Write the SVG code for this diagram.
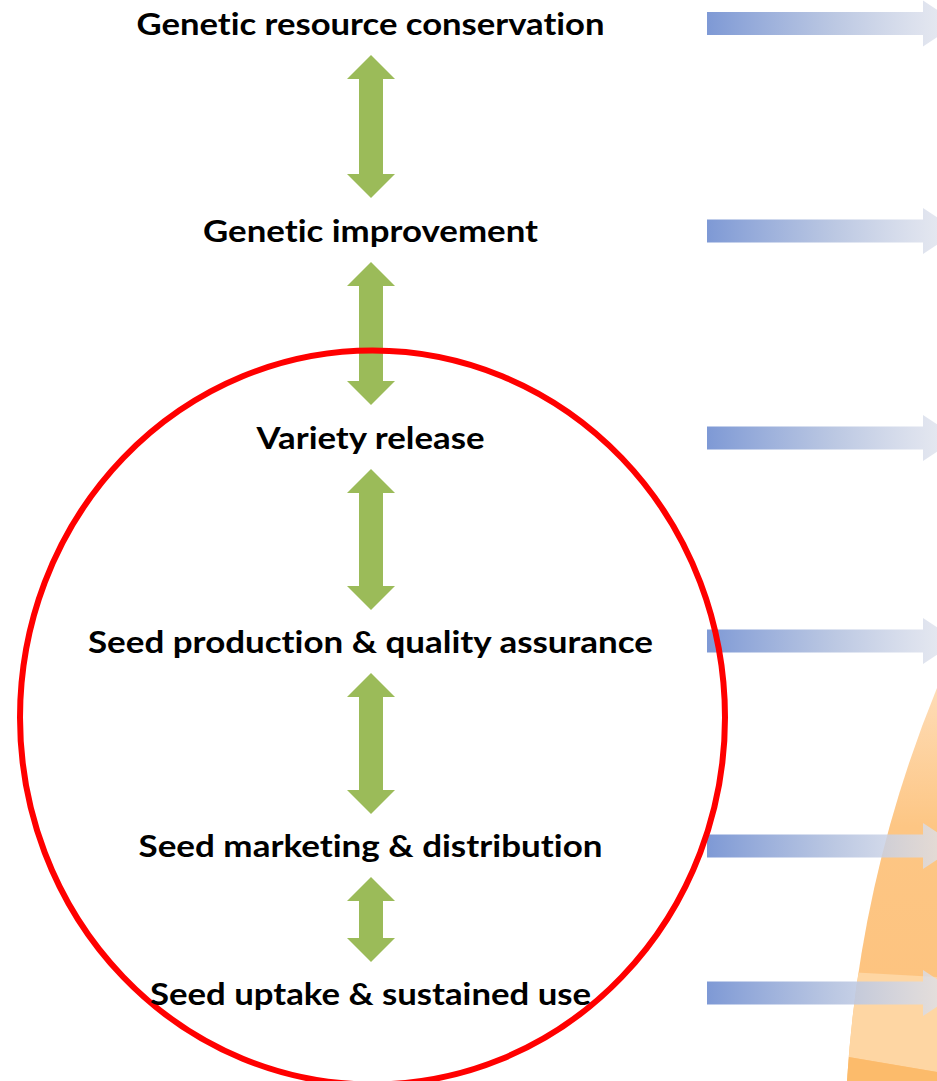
<svg xmlns="http://www.w3.org/2000/svg" width="937" height="1081" viewBox="0 0 937 1081">
  <defs>
    <style>
      .lbl { font-family: Lato, "Open Sans", "Liberation Sans", sans-serif; font-weight: 700; font-size: 30px; fill: #000; text-anchor: middle; font-variant-ligatures: none; font-feature-settings: "liga" 0, "clig" 0; }
      .green { fill: #9bbb59; }
      .blue { fill: url(#blueGrad); }
    </style>
    <linearGradient id="blueGrad" x1="0" y1="0" x2="1" y2="0">
      <stop offset="0" stop-color="#7e99d5" stop-opacity="1"/>
      <stop offset="0.5" stop-color="#b3c1df" stop-opacity="0.9"/>
      <stop offset="1" stop-color="#e4e6ee" stop-opacity="0.75"/>
    </linearGradient>
    <linearGradient id="orangeGrad" x1="0" y1="690" x2="0" y2="1081" gradientUnits="userSpaceOnUse">
      <stop offset="0" stop-color="#fedcb6"/>
      <stop offset="0.35" stop-color="#fdc684"/>
      <stop offset="1" stop-color="#fdc27d"/>
    </linearGradient>
    <clipPath id="orangeClip">
      <path d="M937,688 A1241,1241 0 0 0 847,1081 L937,1081 Z"/>
    </clipPath>
  </defs>

  <g id="orange-shape">
    <path d="M937,688 A1241,1241 0 0 0 847,1081 L937,1081 Z" fill="url(#orangeGrad)"/>
    <g clip-path="url(#orangeClip)">
      <polygon points="830,971 937,977 937,1072 830,1054" fill="#fed6a3"/>
      <polygon points="830,1054 937,1072 937,1081 830,1081" fill="#fcbb6b"/>
    </g>
  </g>

  <g id="connectors">
    <g id="blue-arrows">
      <path class="blue" d="M707,12 L923,12 L923,0.5 L958,23.5 L923,46.5 L923,35 L707,35 Z"/>
      <path class="blue" d="M707,219.5 L923,219.5 L923,208 L958,231 L923,254 L923,242.5 L707,242.5 Z"/>
      <path class="blue" d="M707,426.5 L923,426.5 L923,415 L958,438 L923,461 L923,449.5 L707,449.5 Z"/>
      <path class="blue" d="M707,629.5 L923,629.5 L923,618 L958,641 L923,664 L923,652.5 L707,652.5 Z"/>
      <path class="blue" d="M707,834.5 L923,834.5 L923,823 L958,846 L923,869 L923,857.5 L707,857.5 Z"/>
      <path class="blue" d="M707,981.5 L923,981.5 L923,970 L958,993 L923,1016 L923,1004.5 L707,1004.5 Z"/>
    </g>
    <g id="green-arrows">
      <path class="green" d="M371,55 L395,79 L383,79 L383,174 L395,174 L371,198 L347,174 L359,174 L359,79 L347,79 Z"/>
      <path class="green" d="M371,262 L395,286 L383,286 L383,381 L395,381 L371,405 L347,381 L359,381 L359,286 L347,286 Z"/>
      <path class="green" d="M371,469 L395,493 L383,493 L383,586 L395,586 L371,610 L347,586 L359,586 L359,493 L347,493 Z"/>
      <path class="green" d="M371,673 L395,697 L383,697 L383,790 L395,790 L371,814 L347,790 L359,790 L359,697 L347,697 Z"/>
      <path class="green" d="M371,877 L395,901 L383,901 L383,938 L395,938 L371,962 L347,938 L359,938 L359,901 L347,901 Z"/>
    </g>
  </g>

  <g id="red-circle">
    <ellipse cx="372.5" cy="717.5" rx="352.5" ry="367" fill="none" stroke="#ff0000" stroke-width="6"/>
  </g>

  <g id="node-conservation"><text class="lbl" x="370.5" y="35" textLength="468" lengthAdjust="spacingAndGlyphs">Genetic resource conservation</text></g>
  <g id="node-improvement"><text class="lbl" x="370.5" y="242" textLength="335" lengthAdjust="spacingAndGlyphs">Genetic improvement</text></g>
  <g id="node-release"><text class="lbl" x="370.5" y="449" textLength="228" lengthAdjust="spacingAndGlyphs">Variety release</text></g>
  <g id="node-production"><text class="lbl" x="370.5" y="653" textLength="565" lengthAdjust="spacingAndGlyphs">Seed production &amp; quality assurance</text></g>
  <g id="node-marketing"><text class="lbl" x="370.5" y="857" textLength="464" lengthAdjust="spacingAndGlyphs">Seed marketing &amp; distribution</text></g>
  <g id="node-uptake"><text class="lbl" x="370.5" y="1005" textLength="441" lengthAdjust="spacingAndGlyphs">Seed uptake &amp; sustained use</text></g>
</svg>
